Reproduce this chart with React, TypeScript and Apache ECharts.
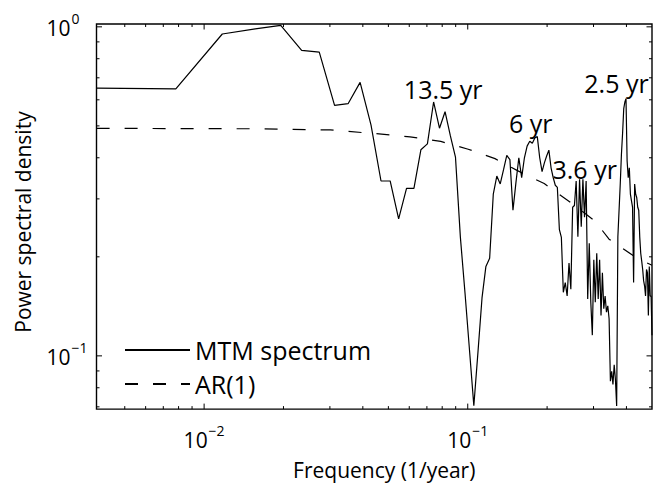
import React, { useEffect, useRef } from "react";
import * as echarts from "echarts";

const FONT = "'Open Sans', 'Noto Sans', sans-serif";

const X_MIN = 0.00390625;
const X_MAX = 0.5;
const Y_MIN = 0.0689;
const Y_MAX = 1.02;

// MTM spectrum: frequency (1/year) and normalised power
const mtmFreq = [
  0.00391, 0.00781, 0.01172, 0.01563, 0.01953, 0.02344, 0.02734, 0.03125, 0.03516, 0.03906,
  0.04297, 0.04688, 0.05078, 0.05469, 0.05859, 0.0625, 0.06641, 0.07031, 0.07422, 0.07813,
  0.08203, 0.08594, 0.08984, 0.09375, 0.09766, 0.10156, 0.10547, 0.10938, 0.11328, 0.11719,
  0.12109, 0.125, 0.12891, 0.13281, 0.13672, 0.14063, 0.14453, 0.14844, 0.15234, 0.15625,
  0.16016, 0.16406, 0.16797, 0.17188, 0.17578, 0.17969, 0.18359, 0.1875, 0.19141, 0.19531,
  0.19922, 0.20313, 0.20703, 0.21094, 0.21484, 0.21875, 0.22266, 0.22656, 0.23047, 0.23438,
  0.23828, 0.24219, 0.24609, 0.25, 0.25391, 0.25781, 0.26172, 0.26563, 0.26953, 0.27344,
  0.27734, 0.28125, 0.28516, 0.28906, 0.29297, 0.29688, 0.30078, 0.30469, 0.30859, 0.3125,
  0.31641, 0.32031, 0.32422, 0.32813, 0.33203, 0.33594, 0.33984, 0.34375, 0.34766, 0.35156,
  0.35547, 0.35938, 0.36328, 0.36719, 0.37109, 0.375, 0.37891, 0.38281, 0.38672, 0.39063,
  0.39453, 0.39844, 0.40234, 0.40625, 0.41016, 0.41406, 0.41797, 0.42188, 0.42578, 0.42969,
  0.43359, 0.4375, 0.44141, 0.44531, 0.44922, 0.45313, 0.45703, 0.46094, 0.46484, 0.46875,
  0.47266, 0.47656, 0.48047, 0.48438, 0.48828, 0.49219, 0.49609, 0.5,
];
const mtmPower = [
  0.651, 0.648, 0.951, 0.986, 1.01, 0.848, 0.838, 0.577, 0.584, 0.678,
  0.503, 0.34, 0.34, 0.261, 0.323, 0.323, 0.423, 0.441, 0.591, 0.492,
  0.552, 0.466, 0.402, 0.23, 0.155, 0.104, 0.0705, 0.103, 0.15, 0.187,
  0.198, 0.31, 0.352, 0.333, 0.368, 0.407, 0.395, 0.277, 0.336, 0.4,
  0.348, 0.4, 0.434, 0.449, 0.443, 0.459, 0.464, 0.4, 0.363, 0.386,
  0.405, 0.422, 0.373, 0.348, 0.33, 0.325, 0.242, 0.229, 0.156, 0.167,
  0.152, 0.1915, 0.1595, 0.283, 0.2865, 0.34, 0.23, 0.344, 0.247, 0.344,
  0.264, 0.34, 0.149, 0.22, 0.1455, 0.1156, 0.196, 0.1455, 0.205, 0.149,
  0.196, 0.1327, 0.179, 0.139, 0.152, 0.1358, 0.142, 0.1297, 0.0838, 0.0898,
  0.0819, 0.094, 0.0848, 0.0704, 0.23, 0.277, 0.333, 0.409, 0.475, 0.564,
  0.591, 0.605, 0.391, 0.348, 0.373, 0.31, 0.296, 0.283, 0.167, 0.333,
  0.31, 0.303, 0.283, 0.277, 0.23, 0.205, 0.194, 0.183, 0.169, 0.163,
  0.152, 0.183, 0.179, 0.1327, 0.187, 0.152, 0.152, 0.1156,
];

// AR(1) red-noise background
const arFreq = [0.00391, 0.015, 0.0301, 0.0471, 0.0604, 0.079, 0.1004, 0.1269, 0.1544, 0.195, 0.2426, 0.304, 0.3436, 0.4376, 0.5];
const arPower = [0.4915, 0.49, 0.486, 0.472, 0.463, 0.4485, 0.4247, 0.3976, 0.3656, 0.334, 0.2947, 0.2568, 0.2263, 0.1983, 0.1886];

// peak annotations
const annText = ["13.5 yr", "6 yr", "3.6 yr", "2.5 yr"];
const annFreq = [0.0807, 0.1735, 0.2778, 0.3668];
const annPower = [0.645, 0.509, 0.371, 0.676];

// ticks
const xMajorTicks = [0.01, 0.1];
const xMinorTicks = [0.005, 0.006, 0.007, 0.008, 0.009, 0.02, 0.03, 0.04, 0.05, 0.06, 0.07, 0.08, 0.09, 0.2, 0.3, 0.4];
const yMajorTicks = [0.1, 1];
const yMinorTicks = [0.07, 0.08, 0.09, 0.2, 0.3, 0.4, 0.5, 0.6, 0.7, 0.8, 0.9];

const isPow10 = (v: number) => {
  const l = Math.log10(v);
  return Math.abs(l - Math.round(l)) < 1e-6;
};
const expLabel = (v: number) => {
  if (!isPow10(v)) return "";
  const e = Math.round(Math.log10(v));
  const s = e < 0 ? "\u2212" + Math.abs(e) : String(e);
  return "{b|10}{s|" + s + "}";
};
const richExp = {
  b: { fontSize: 21, lineHeight: 21, verticalAlign: "bottom", padding: [0, 0, 4, 0], color: "#000", fontFamily: FONT },
  s: { fontSize: 14, lineHeight: 14, verticalAlign: "bottom", padding: [0, 0, 17, 1], color: "#000", fontFamily: FONT },
};

export default function App() {
  const ref = useRef<HTMLDivElement>(null);
  useEffect(() => {
    if (!ref.current) return;
    const chart = echarts.init(ref.current, null, { renderer: "svg" });
    const tickData: number[][] = [
      ...xMinorTicks.map((v) => [v, Y_MIN, 0]),
      ...xMajorTicks.map((v) => [v, Y_MIN, 1]),
      ...yMinorTicks.map((v) => [X_MIN, v, 2]),
      ...yMajorTicks.map((v) => [X_MIN, v, 3]),
    ];
    chart.setOption({
      animation: false,
      backgroundColor: "#fff",
      textStyle: { fontFamily: FONT, color: "#000" },
      grid: { left: 96.5, right: 8, top: 24, bottom: 70, show: true, borderColor: "#000", borderWidth: 1.4, backgroundColor: "transparent" },
      xAxis: {
        type: "log",
        logBase: 10,
        min: X_MIN,
        max: X_MAX,
        name: "Frequency (1/year)",
        nameLocation: "middle",
        nameGap: 43,
        nameTextStyle: { fontSize: 21, color: "#000", fontFamily: FONT, padding: [0, 0, 0, 20] },
        axisLine: { show: false },
        axisTick: { show: false },
        splitLine: { show: false },
        minorTick: { show: false },
        axisLabel: { formatter: expLabel, rich: richExp, margin: 24, showMinLabel: false, showMaxLabel: false, hideOverlap: false },
      },
      yAxis: {
        type: "log",
        logBase: 10,
        min: Y_MIN,
        max: Y_MAX,
        name: "Power spectral density",
        nameLocation: "middle",
        nameGap: 63,
        nameTextStyle: { fontSize: 21, color: "#000", fontFamily: FONT, padding: [0, 11, 0, 0] },
        axisLine: { show: false },
        axisTick: { show: false },
        splitLine: { show: false },
        minorTick: { show: false },
        axisLabel: { formatter: expLabel, rich: richExp, margin: 50, align: "left", padding: [10, 0, 0, 0], showMinLabel: false, showMaxLabel: false, hideOverlap: false },
      },
      legend: {
        orient: "vertical",
        left: 124,
        top: 333,
        padding: 0,
        itemGap: 0,
        itemWidth: 65,
        itemHeight: 14,
        itemStyle: { opacity: 0 },
        data: ["MTM spectrum", "AR(1)"],
        textStyle: { fontSize: 25, lineHeight: 34, color: "#000", fontFamily: FONT },
      },
      series: [
        {
          name: "MTM spectrum",
          type: "line",
          symbol: "none",
          z: 3,
          data: mtmFreq.map((f, i) => [f, mtmPower[i]]),
          lineStyle: { color: "#000", width: 1.2 },
          itemStyle: { color: "#000" },
          markPoint: {
            silent: true,
            symbol: "circle",
            symbolSize: 1,
            itemStyle: { color: "rgba(0,0,0,0)" },
            label: { show: true, position: "inside", color: "#000", fontSize: 25, fontFamily: FONT },
            data: annText.map((t, i) => ({ coord: [annFreq[i], annPower[i]], name: t, label: { formatter: t } })),
          },
        },
        {
          name: "AR(1)",
          type: "line",
          symbol: "none",
          z: 2,
          data: arFreq.map((f, i) => [f, arPower[i]]),
          lineStyle: { color: "#000", width: 1.2, type: [13, 15] },
          itemStyle: { color: "#000" },
        },
        {
          name: "ticks",
          type: "custom",
          silent: true,
          clip: false,
          z: 5,
          dimensions: ["x", "y", "kind"],
          encode: { x: 0, y: 1 },
          data: tickData,
          renderItem: (params: any, api: any) => {
            const kind = api.value(2);
            const cs = params.coordSys;
            const p = api.coord([api.value(0), api.value(1)]);
            const len = kind === 1 || kind === 3 ? 5.5 : 3;
            const st = { stroke: "#000", lineWidth: 1 };
            if (kind < 2) {
              const x = p[0];
              const b = cs.y + cs.height;
              return {
                type: "group",
                children: [
                  { type: "line", shape: { x1: x, y1: b, x2: x, y2: b - len }, style: st },
                  { type: "line", shape: { x1: x, y1: cs.y, x2: x, y2: cs.y + len }, style: st },
                ],
              };
            }
            const y = p[1];
            const r = cs.x + cs.width;
            return {
              type: "group",
              children: [
                { type: "line", shape: { x1: cs.x, y1: y, x2: cs.x + len, y2: y }, style: st },
                { type: "line", shape: { x1: r, y1: y, x2: r - len, y2: y }, style: st },
              ],
            };
          },
        },
      ],
    });
    return () => chart.dispose();
  }, []);
  return <div ref={ref} style={{ position: "fixed", left: 0, top: 0, width: 660, height: 485, background: "#fff" }} />;
}
